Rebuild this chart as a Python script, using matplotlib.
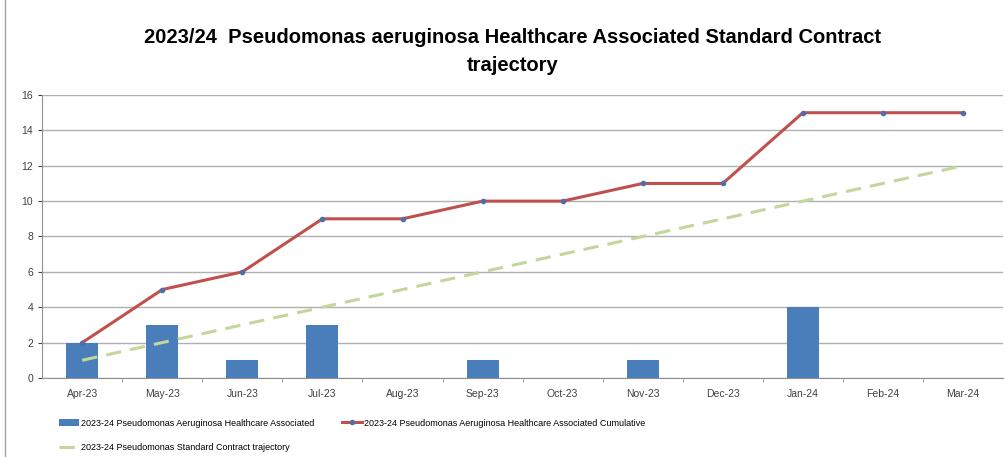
import matplotlib.pyplot as plt
from matplotlib.patches import Rectangle

plt.rcParams["font.family"] = ["Liberation Sans", "DejaVu Sans"]

months = ["Apr-23", "May-23", "Jun-23", "Jul-23", "Aug-23", "Sep-23",
          "Oct-23", "Nov-23", "Dec-23", "Jan-24", "Feb-24", "Mar-24"]
monthly = [2, 3, 1, 3, 0, 1, 0, 1, 0, 4, 0, 0]
cumulative = [2, 5, 6, 9, 9, 10, 10, 11, 11, 15, 15, 15]
trajectory = [1, 2, 3, 4, 5, 6, 7, 8, 9, 10, 11, 12]

fig = plt.figure(figsize=(10.05, 4.57), dpi=100)
fig.patches.append(Rectangle((0.005, -0.01), 1.2, 1.2, transform=fig.transFigure,
                             fill=False, edgecolor="#a0a0a0", linewidth=1))
ax = fig.add_axes([0.042, 0.173, 0.956, 0.619])

x = range(len(months))
b = ax.bar(x, monthly, width=0.4, color="#4a7ebb", zorder=2,
           label="2023-24 Pseudomonas Aeruginosa Healthcare Associated")
c, = ax.plot(x, cumulative, color="#c0504d", linewidth=2.2, marker="o", markersize=3,
             markerfacecolor="#4f6fa8", markeredgecolor="#4f6fa8", zorder=3,
             label="2023-24 Pseudomonas Aeruginosa Healthcare Associated Cumulative")
t, = ax.plot(x, trajectory, color="#c3d69b", linewidth=2.2, linestyle=(0, (5, 3)), zorder=3,
             label="2023-24 Pseudomonas Standard Contract trajectory")

ax.set_xlim(-0.5, len(months) - 0.5)
ax.set_ylim(0, 16)
ax.set_yticks(range(0, 17, 2))
ax.set_xticks(list(x))
ax.set_xticklabels(months)
ax.set_xticks([i + 0.5 for i in range(len(months) - 1)], minor=True)
ax.tick_params(axis="both", labelsize=7.5, colors="#404040", length=3)
ax.tick_params(axis="x", which="major", length=0, pad=8)
ax.tick_params(axis="x", which="minor", length=3, color="#909090")
ax.grid(axis="y", color="#b0b0b0", linewidth=1, zorder=0)
for s in ["top", "right"]:
    ax.spines[s].set_visible(False)
ax.spines["left"].set_color("#909090")
ax.spines["bottom"].set_color("#909090")

fig.text(0.51, 0.888, "2023/24  Pseudomonas aeruginosa Healthcare Associated Standard Contract\ntrajectory",
         ha="center", va="center", fontsize=14.5, fontweight="bold", linespacing=1.6)

fig.legend([b, t, c], [b.get_label(), t.get_label(), c.get_label()],
           loc="upper left", bbox_to_anchor=(0.055, 0.092), ncol=2, frameon=False,
           fontsize=6.5, columnspacing=3, handlelength=2.2, handletextpad=0.3,
           labelspacing=1.7, borderaxespad=0)

fig.savefig("out.png", dpi=100)
